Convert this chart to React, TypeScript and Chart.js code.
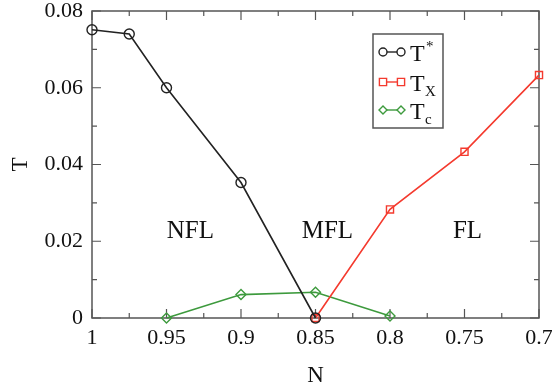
import React, { useEffect, useRef } from "react";
import { Chart, registerables } from "chart.js";

Chart.register(...registerables);

// ---- data ----
const nTstar = [1, 0.975, 0.95, 0.9, 0.85];
const tStar = [0.0751, 0.074, 0.06, 0.0353, 0.0];
const nTx = [0.85, 0.8, 0.75, 0.7];
const tX = [0.0, 0.0283, 0.0433, 0.0633];
const nTc = [0.95, 0.9, 0.85, 0.8];
const tC = [0.0, 0.0061, 0.0067, 0.0005];

const xTicks = [1, 0.95, 0.9, 0.85, 0.8, 0.75, 0.7];
const xTickLabels = ["1", "0.95", "0.9", "0.85", "0.8", "0.75", "0.7"];
const yTicks = [0, 0.02, 0.04, 0.06, 0.08];
const yTickLabels = ["0", "0.02", "0.04", "0.06", "0.08"];

const regionLabels = ["NFL", "MFL", "FL"];
const regionN = [0.934, 0.842, 0.748];
const regionT = [0.0225, 0.0225, 0.0225];

const seriesNames = ["T", "T", "T"];
const seriesScripts = ["*", "X", "c"];
const seriesScriptSup = [true, false, false];
const seriesColors = ["#222222", "#f43a2e", "#3d9a3d"];
const seriesShapes = ["circle", "rect", "rectRot"];

const SERIF = "'Liberation Serif', 'DejaVu Serif', serif";

function drawMarker(ctx: CanvasRenderingContext2D, shape: string, x: number, y: number, r: number, color: string) {
  ctx.save();
  ctx.strokeStyle = color;
  ctx.fillStyle = "#ffffff";
  ctx.lineWidth = 1.4;
  ctx.beginPath();
  if (shape === "circle") {
    ctx.arc(x, y, r, 0, Math.PI * 2);
  } else if (shape === "rect") {
    ctx.rect(x - r * 0.9, y - r * 0.9, r * 1.8, r * 1.8);
  } else {
    ctx.moveTo(x - r, y);
    ctx.lineTo(x, y - r);
    ctx.lineTo(x + r, y);
    ctx.lineTo(x, y + r);
    ctx.closePath();
  }
  ctx.fill();
  ctx.stroke();
  ctx.restore();
}

const framePlugin = {
  id: "frame",
  beforeDatasetsDraw(chart: any) {
    const { ctx, chartArea: a, scales } = chart;
    const xs = scales.x;
    const ys = scales.y;
    ctx.save();
    ctx.strokeStyle = "#555555";
    ctx.lineWidth = 1.5;
    ctx.strokeRect(a.left, a.top, a.right - a.left, a.bottom - a.top);
    const major = 9;
    const minor = 5;
    ctx.lineWidth = 1.2;
    ctx.beginPath();
    for (let i = 0; i < xTicks.length; i++) {
      const px = xs.getPixelForValue(xTicks[i]);
      ctx.moveTo(px, a.bottom); ctx.lineTo(px, a.bottom - major);
      ctx.moveTo(px, a.top); ctx.lineTo(px, a.top + major);
      if (i < xTicks.length - 1) {
        const pm = xs.getPixelForValue((xTicks[i] + xTicks[i + 1]) / 2);
        ctx.moveTo(pm, a.bottom); ctx.lineTo(pm, a.bottom - minor);
        ctx.moveTo(pm, a.top); ctx.lineTo(pm, a.top + minor);
      }
    }
    for (let i = 0; i < yTicks.length; i++) {
      const py = ys.getPixelForValue(yTicks[i]);
      ctx.moveTo(a.left, py); ctx.lineTo(a.left + major, py);
      ctx.moveTo(a.right, py); ctx.lineTo(a.right - major, py);
      if (i < yTicks.length - 1) {
        const pm = ys.getPixelForValue((yTicks[i] + yTicks[i + 1]) / 2);
        ctx.moveTo(a.left, pm); ctx.lineTo(a.left + minor, pm);
        ctx.moveTo(a.right, pm); ctx.lineTo(a.right - minor, pm);
      }
    }
    ctx.stroke();

    ctx.fillStyle = "#111111";
    ctx.font = `22px ${SERIF}`;
    ctx.textAlign = "center";
    ctx.textBaseline = "middle";
    for (let i = 0; i < xTicks.length; i++) {
      ctx.fillText(xTickLabels[i], xs.getPixelForValue(xTicks[i]), a.bottom + 20);
    }
    ctx.textAlign = "right";
    for (let i = 0; i < yTicks.length; i++) {
      ctx.fillText(yTickLabels[i], a.left - 9, ys.getPixelForValue(yTicks[i]));
    }
    ctx.font = `23px ${SERIF}`;
    ctx.textAlign = "center";
    ctx.fillText("N", (a.left + a.right) / 2, a.bottom + 58);
    ctx.save();
    ctx.translate(21, (a.top + a.bottom) / 2);
    ctx.rotate(-Math.PI / 2);
    ctx.fillText("T", 0, 0);
    ctx.restore();

    ctx.font = `25px ${SERIF}`;
    for (let i = 0; i < regionLabels.length; i++) {
      ctx.fillText(regionLabels[i], xs.getPixelForValue(regionN[i]), ys.getPixelForValue(regionT[i]));
    }
    ctx.restore();
  },
  afterDraw(chart: any) {
    const { ctx } = chart;
    ctx.save();
    const bx = 373, by = 34, bw = 70, bh = 94;
    ctx.strokeStyle = "#555555";
    ctx.lineWidth = 1.5;
    ctx.fillStyle = "#ffffff";
    ctx.fillRect(bx, by, bw, bh);
    ctx.strokeRect(bx, by, bw, bh);
    const rowsY = [52, 82, 110];
    for (let i = 0; i < seriesNames.length; i++) {
      const y = rowsY[i];
      ctx.strokeStyle = seriesColors[i];
      ctx.lineWidth = 1.4;
      ctx.beginPath();
      ctx.moveTo(383, y);
      ctx.lineTo(401, y);
      ctx.stroke();
      drawMarker(ctx, seriesShapes[i], 383, y, 4, seriesColors[i]);
      drawMarker(ctx, seriesShapes[i], 401, y, 4, seriesColors[i]);
      ctx.fillStyle = "#111111";
      ctx.textAlign = "left";
      ctx.textBaseline = "alphabetic";
      ctx.font = `24px ${SERIF}`;
      ctx.fillText(seriesNames[i], 410, y + 9);
      ctx.font = `15px ${SERIF}`;
      if (seriesScriptSup[i]) {
        ctx.fillText(seriesScripts[i], 426, y - 1);
      } else {
        ctx.fillText(seriesScripts[i], 425, y + 14);
      }
    }
    ctx.restore();
  },
};

export default function App() {
  const ref = useRef<HTMLCanvasElement | null>(null);
  useEffect(() => {
    document.body.style.margin = "0";
    const canvas = ref.current;
    if (!canvas) return;
    const mk = (xs: number[], ys: number[]) => xs.map((x, i) => ({ x, y: ys[i] }));
    const chart = new Chart(canvas, {
      type: "line",
      data: {
        datasets: [
          { data: mk(nTstar, tStar) },
          { data: mk(nTx, tX) },
          { data: mk(nTc, tC) },
        ].map((d, i) => ({
          ...d,
          label: seriesNames[i] + seriesScripts[i],
          borderColor: seriesColors[i],
          borderWidth: 1.6,
          pointStyle: seriesShapes[i] as any,
          pointRadius: 5,
          pointBorderWidth: 1.4,
          pointBorderColor: seriesColors[i],
          pointBackgroundColor: "rgba(255,255,255,0)",
          fill: false,
          tension: 0,
          clip: false as any,
        })),
      },
      options: {
        animation: false,
        responsive: false,
        maintainAspectRatio: false,
        layout: { padding: { left: 92, right: 13, top: 11, bottom: 69 } },
        plugins: { legend: { display: false }, tooltip: { enabled: false } },
        scales: {
          x: { type: "linear", reverse: true, min: 0.7, max: 1, display: false },
          y: { type: "linear", min: 0, max: 0.08, display: false },
        },
      },
      plugins: [framePlugin],
    });
    return () => chart.destroy();
  }, []);
  return (
    <div style={{ width: 552, height: 387, background: "#fff" }}>
      <canvas ref={ref} width={552} height={387} style={{ display: "block" }} />
    </div>
  );
}
